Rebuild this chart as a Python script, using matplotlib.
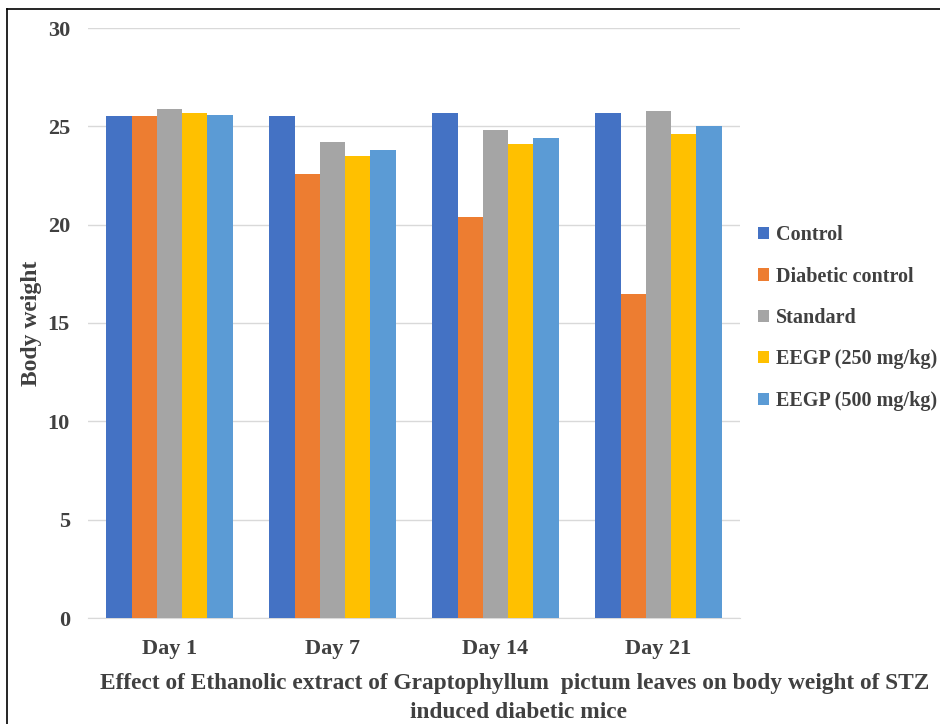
import numpy as np
import matplotlib.pyplot as plt
from matplotlib.lines import Line2D

plt.rcParams['font.family'] = ['Liberation Serif', 'DejaVu Serif']
plt.rcParams['font.weight'] = 'bold'

days = ['Day 1', 'Day 7', 'Day 14', 'Day 21']
groups = ['Control', 'Diabetic control', 'Standard', 'EEGP (250 mg/kg)', 'EEGP (500 mg/kg)']
control = [25.5, 25.5, 25.7, 25.7]
diabetic = [25.5, 22.6, 20.4, 16.5]
standard = [25.9, 24.2, 24.8, 25.8]
eegp250 = [25.7, 23.5, 24.1, 24.6]
eegp500 = [25.6, 23.8, 24.4, 25.0]
colors = ['#4472c4', '#ed7d31', '#a5a5a5', '#ffc000', '#5b9bd5']

fig = plt.figure(figsize=(9.4, 7.24), dpi=100)
ax = fig.add_axes([88 / 940, 106 / 724, 652 / 940, 590 / 724])

x = np.arange(len(days))
w = 0.155
for i, (vals, c, name) in enumerate(zip([control, diabetic, standard, eegp250, eegp500], colors, groups)):
    ax.bar(x + (i - 2) * w, vals, w, color=c, label=name, zorder=3)

ax.set_xlim(-0.5, 3.5)
ax.set_ylim(0, 30)
ax.set_yticks(range(0, 31, 5))
ax.set_xticks(x)
ax.set_xticklabels(days)
ax.grid(axis='y', color='#d9d9d9', linewidth=1, zorder=0)
for s in ['top', 'right', 'left']:
    ax.spines[s].set_visible(False)
ax.spines['bottom'].set_color('#d9d9d9')
ax.tick_params(axis='both', length=0, labelsize=16, labelcolor='#404040')
ax.tick_params(axis='y', pad=13)
ax.tick_params(axis='x', pad=15)

fig.text(32 / 940, 1 - 323 / 724, 'Body weight', rotation=90, ha='center', va='center',
         fontsize=17, color='#404040', fontweight='bold')

ax.legend(loc='center left', bbox_to_anchor=(740 / 940, 1 - 318 / 724), bbox_transform=fig.transFigure,
          frameon=False, fontsize=14.5, handlelength=0.55, handleheight=0.55, handletextpad=0.35,
          labelspacing=1.06, labelcolor='#404040')

fig.text(515 / 940, 1 - 684 / 724, 'Effect of Ethanolic extract of Graptophyllum  pictum leaves on body weight of STZ',
         ha='center', va='center', fontsize=16.8, color='#404040', fontweight='bold')
fig.text(519 / 940, 1 - 712 / 724, 'induced diabetic mice',
         ha='center', va='center', fontsize=16.8, color='#404040', fontweight='bold')

# frame lines along the left and top edge
fig.add_artist(Line2D([7 / 940, 7 / 940], [0, 1 - 9 / 724], color='black', linewidth=1.2))
fig.add_artist(Line2D([7 / 940, 1], [1 - 9 / 724, 1 - 9 / 724], color='black', linewidth=1.2))

fig.savefig('out.png', dpi=100)
